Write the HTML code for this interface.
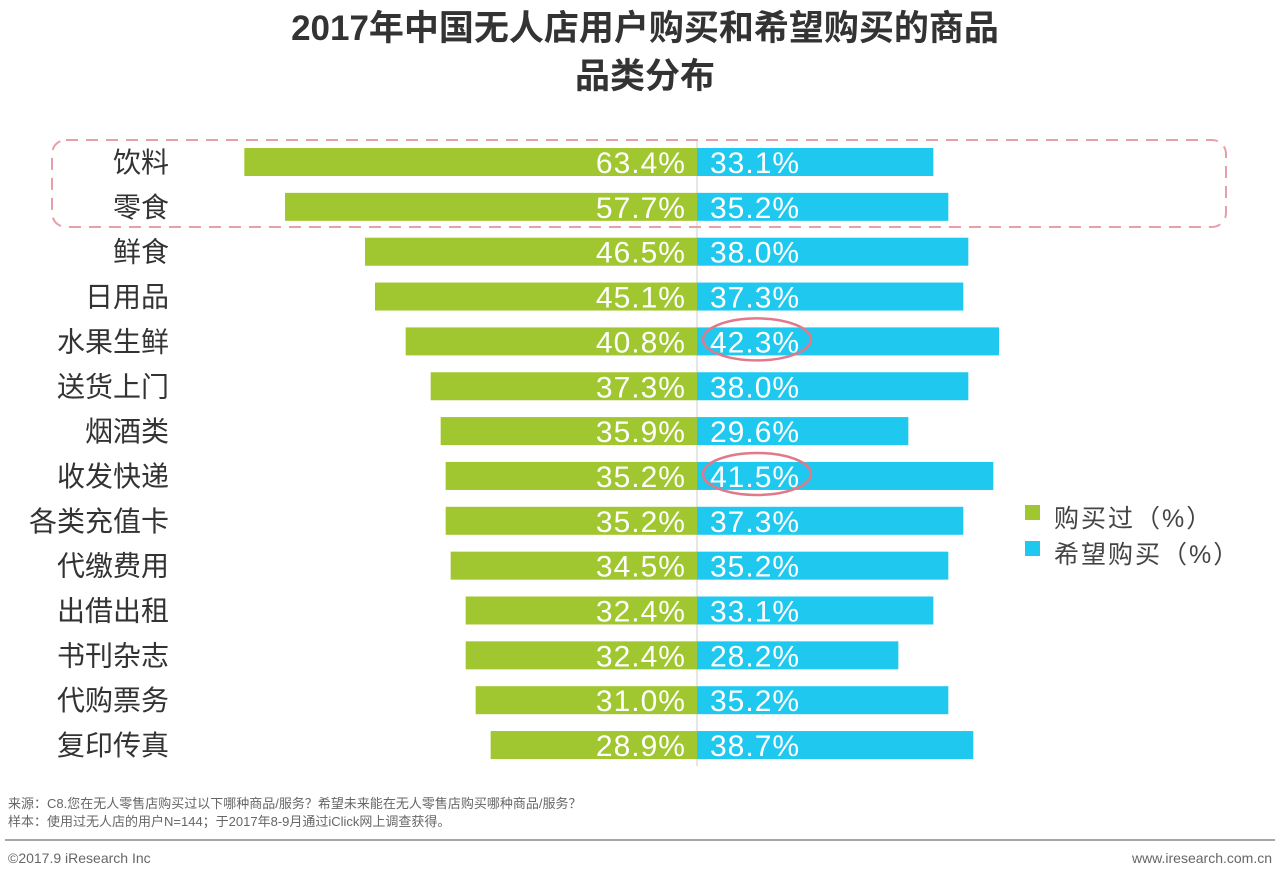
<!DOCTYPE html>
<html><head><meta charset="utf-8"><style>
body{margin:0;width:1280px;height:875px;background:#fff;overflow:hidden;font-family:"Liberation Sans","Noto Sans CJK SC",sans-serif;}
</style></head><body>
<svg id="c" width="1280" height="875" style="font-family:'Liberation Sans','Noto Sans CJK SC',sans-serif">
<text x="645" y="40" text-anchor="middle" font-size="35" font-weight="bold" fill="#333">2017年中国无人店用户购买和希望购买的商品</text>
<text x="645" y="88" text-anchor="middle" font-size="35" font-weight="bold" fill="#333">品类分布</text>
<line x1="697" y1="140" x2="697" y2="766" stroke="#ccc" stroke-width="1"/>
<g id="bars"></g>
<rect x="52" y="140" width="1174" height="87" rx="14" fill="none" stroke="#e8a0a8" stroke-width="2" stroke-dasharray="12,8"/>
<rect x="1025" y="505" width="15" height="15" fill="#a0c630"/>
<text x="1054" y="527" font-size="25" fill="#444" letter-spacing="2">购买过（%）</text>
<rect x="1025" y="541" width="15" height="15" fill="#1ec8ee"/>
<text x="1054" y="563" font-size="25" fill="#444" letter-spacing="2">希望购买（%）</text>
<text x="8" y="808" font-size="13" fill="#666">来源：C8.您在无人零售店购买过以下哪种商品/服务？希望未来能在无人零售店购买哪种商品/服务？</text>
<text x="8" y="826" font-size="13" fill="#666">样本：使用过无人店的用户N=144；于2017年8-9月通过iClick网上调查获得。</text>
<line x1="5" y1="840" x2="1275" y2="840" stroke="#888" stroke-width="1.5"/>
<text x="8" y="863" font-size="14" fill="#666">©2017.9 iResearch Inc</text>
<text x="1272" y="863" font-size="14" fill="#666" text-anchor="end">www.iresearch.com.cn</text>
</svg>
<script>
const categories=["饮料","零食","鲜食","日用品","水果生鲜","送货上门","烟酒类","收发快递","各类充值卡","代缴费用","出借出租","书刊杂志","代购票务","复印传真"];
const bought=[63.4,57.7,46.5,45.1,40.8,37.3,35.9,35.2,35.2,34.5,32.4,32.4,31.0,28.9];
const wish=[33.1,35.2,38.0,37.3,42.3,38.0,29.6,41.5,37.3,35.2,33.1,28.2,35.2,38.7];
const circled=[4,7];
const NS="http://www.w3.org/2000/svg";
const cx=697,scale=7.14,y0=162,step=44.85,bh=28;
const g=document.getElementById('bars');
function yPos(i){return y0+i*step;}
function mk(t,a){const e=document.createElementNS(NS,t);for(const k in a)e.setAttribute(k,a[k]);g.appendChild(e);return e;}
categories.forEach((c,i)=>{
  const y=yPos(i);
  const wl=bought[i]*scale, wr=wish[i]*scale;
  let e=mk('rect',{x:cx-wl,y:y-bh/2,width:wl,height:bh,fill:'#a0c630'});
  
  
  e=mk('rect',{x:cx,y:y-bh/2,width:wr,height:bh,fill:'#1ec8ee'});
  
  
  e=mk('text',{x:169,y:y+10,'text-anchor':'end','font-size':28,fill:'#333'});e.textContent=c;
  
  
  e=mk('text',{x:686,y:y+11,'text-anchor':'end','font-size':30,fill:'#fff','letter-spacing':1});e.textContent=bought[i].toFixed(1)+'%';
  
  
  e=mk('text',{x:710,y:y+11,'font-size':30,fill:'#fff','letter-spacing':1});e.textContent=wish[i].toFixed(1)+'%';
  
  
});
circled.forEach(i=>{
  const e=mk('ellipse',{cx:757,cy:yPos(i)-2,rx:54,ry:21,fill:'none',stroke:'#e07a8a','stroke-width':2.5});
  
  
});
</script>
</body></html>
